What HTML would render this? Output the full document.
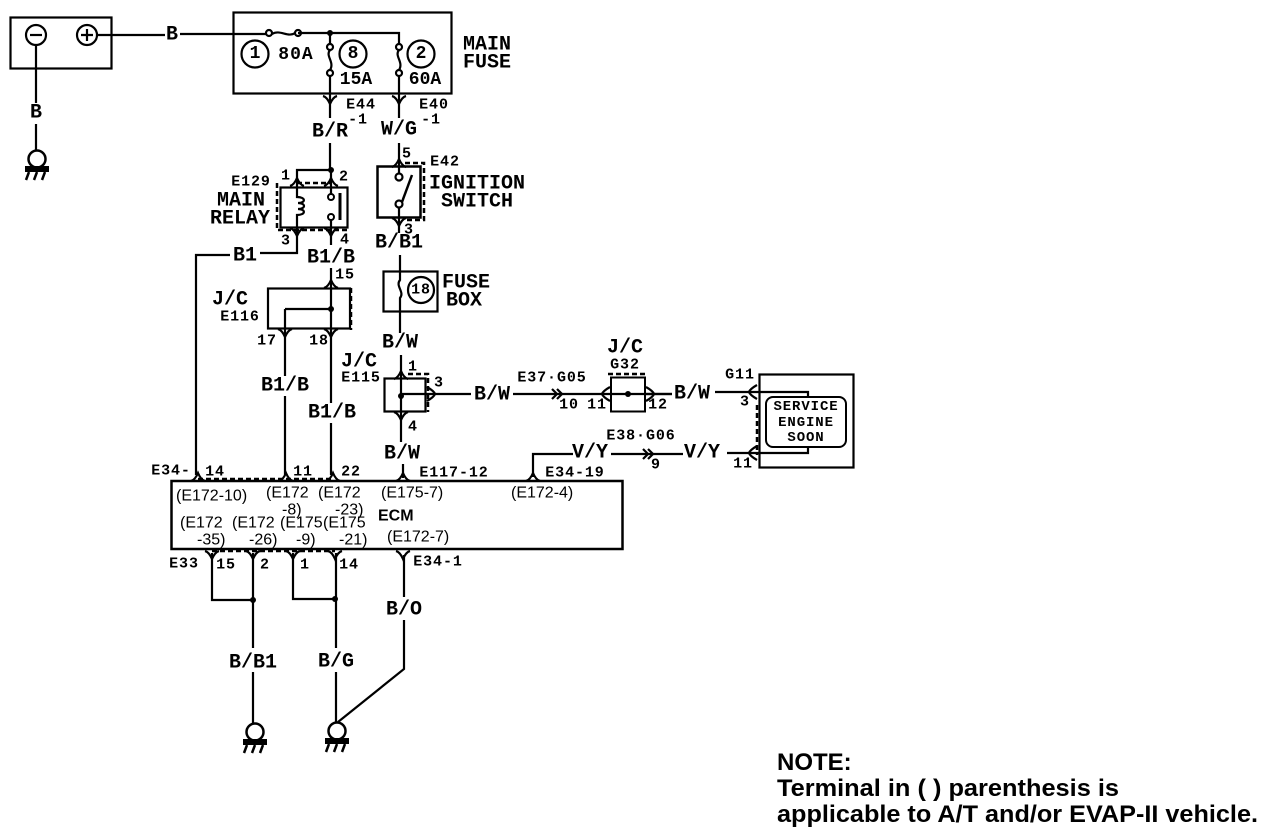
<!DOCTYPE html>
<html><head><meta charset="utf-8"><style>
html,body{margin:0;padding:0;background:#fff}
svg{display:block}
.w{fill:none;stroke:#000;stroke-width:2.2}
.d{fill:none;stroke:#000;stroke-width:2.5;stroke-dasharray:5 3}
text{fill:#000;font-family:"Liberation Mono",monospace;dominant-baseline:central}
.l{font-size:20px;font-weight:bold;text-anchor:middle}
.s{font-size:15px;font-weight:bold;text-anchor:middle;letter-spacing:.9px}
.p{font-family:"Liberation Sans",sans-serif;font-size:16px;text-anchor:start}
.n{font-family:"Liberation Sans",sans-serif;font-size:24px;font-weight:bold;dominant-baseline:auto}
</style></head><body>
<svg width="1280" height="836" viewBox="0 0 1280 836" xmlns="http://www.w3.org/2000/svg">
<defs>
<path id="u" class="w" d="M-7 4Q-3 3 0 -4Q3 3 7 4"/>
<path id="dn" class="w" d="M-7 -4Q-3 -3 0 4Q3 -3 7 -4"/>
<path id="r" class="w" d="M-4 -7Q3 -3 4 0Q3 3 -4 7"/>
<path id="lf" class="w" d="M4 -7Q-3 -3 -4 0Q-3 3 4 7"/>
<g id="gnd"><circle cx="0" cy="0" r="8.5" fill="#fff" stroke="#000" stroke-width="2.5"/><rect x="-12" y="7" width="24" height="6" fill="#000"/><path d="M-8 13L-11 21M0 13L-3 21M8 13L5 21" fill="none" stroke="#000" stroke-width="2.5"/></g>
<path id="chev" class="w" d="M0 -5L5 0L0 5M5 -5L10 0L5 5"/>
</defs>

<!-- battery -->
<rect x="10.5" y="17.5" width="101" height="51" class="w"/>
<circle cx="36" cy="35" r="10" class="w"/><path class="w" d="M30 35H42"/>
<circle cx="87" cy="35" r="10" class="w"/><path class="w" d="M81 35H93M87 29V41"/>
<path class="w" d="M97 35H165M180 34H266"/>
<text class="l" x="172" y="35">B</text>
<path class="w" d="M36 45V103M36 124V151"/>
<text class="l" x="36" y="113">B</text>
<use href="#gnd" x="37" y="159"/>

<!-- main fuse -->
<rect x="233.5" y="12.5" width="218" height="81" class="w"/>
<path class="w" d="M272 34C280 29 288 38 295 33M298 33H399V44"/>
<circle cx="269" cy="33" r="3" class="w"/><circle cx="298" cy="33" r="3" class="w"/>
<circle cx="330" cy="33" r="3" fill="#000"/>
<path class="w" d="M330 33V44M330 50C325 56 335 62 330 70M330 76V118"/>
<circle cx="330" cy="47" r="3" class="w"/><circle cx="330" cy="73" r="3" class="w"/>
<path class="w" d="M399 50C394 56 404 62 399 70M399 76V118"/>
<circle cx="399" cy="47" r="3" class="w"/><circle cx="399" cy="73" r="3" class="w"/>
<circle cx="255" cy="54" r="13.5" class="w"/><text class="l" x="255" y="54" style="font-size:18px">1</text>
<circle cx="353" cy="54" r="13.5" class="w"/><text class="l" x="353" y="54" style="font-size:18px">8</text>
<circle cx="421" cy="54" r="13.5" class="w"/><text class="l" x="421" y="54" style="font-size:18px">2</text>
<text class="l" x="296" y="55" style="font-size:18px;letter-spacing:1px">80A</text>
<text class="l" x="356" y="80" style="font-size:18px">15A</text>
<text class="l" x="425" y="80" style="font-size:18px">60A</text>
<text class="l" x="487" y="45">MAIN</text>
<text class="l" x="487" y="63">FUSE</text>
<use href="#dn" x="330" y="100"/><use href="#dn" x="399" y="100"/>
<text class="s" x="361" y="105">E44</text><text class="s" x="358" y="120">-1</text>
<text class="s" x="434" y="105">E40</text><text class="s" x="431" y="120">-1</text>
<text class="l" x="330" y="132">B/R</text>
<text class="l" x="399" y="130">W/G</text>

<!-- main relay -->
<path class="w" d="M330 143V170H297V187M331 170V194M331 220V245"/>
<circle cx="331" cy="170" r="3" fill="#000"/>
<rect x="280.5" y="187.5" width="67" height="40" class="w"/>
<path class="d" d="M297 183H331M277 183V230H348"/>
<use href="#u" x="297" y="182"/><use href="#u" x="331" y="182"/>
<use href="#dn" x="297" y="232"/><use href="#dn" x="331" y="232"/>
<path class="w" d="M297 187V197C306 197 306 203 298 203C306 203 306 209 298 209C306 209 306 215 297 215V253H260"/>
<circle cx="331" cy="197" r="3" fill="#fff" stroke="#000" stroke-width="2"/>
<circle cx="331" cy="217" r="3" fill="#fff" stroke="#000" stroke-width="2"/>
<path d="M340 193V220" fill="none" stroke="#000" stroke-width="3"/>
<text class="s" x="286" y="176">1</text><text class="s" x="344" y="177">2</text>
<text class="s" x="251" y="182">E129</text>
<text class="l" x="241" y="201">MAIN</text><text class="l" x="240" y="219">RELAY</text>
<text class="s" x="286" y="241">3</text><text class="s" x="345" y="240">4</text>
<text class="l" x="245" y="256">B1</text>
<path class="w" d="M230 255H196V475"/>
<text class="l" x="331" y="258">B1/B</text>

<!-- J/C E116 -->
<path class="w" d="M331 268V475M285 309H331M285 309V475"/>
<rect x="268" y="288.5" width="82" height="40" class="w"/>
<path class="d" d="M351 288V330"/>
<circle cx="331" cy="309" r="3" fill="#000"/>
<use href="#u" x="331" y="284"/>
<use href="#dn" x="285" y="333"/><use href="#dn" x="331" y="333"/>
<text class="s" x="345" y="275">15</text>
<text class="l" x="230" y="300">J/C</text><text class="s" x="240" y="317">E116</text>
<text class="s" x="267" y="341">17</text><text class="s" x="319" y="341">18</text>
<rect x="262" y="376" width="46" height="20" fill="#fff"/><text class="l" x="285" y="386">B1/B</text>
<rect x="308" y="403" width="48" height="20" fill="#fff"/><text class="l" x="332" y="413">B1/B</text>

<!-- ignition -->
<path class="w" d="M399 143V173M399 208V233"/>
<rect x="377.5" y="166.5" width="43" height="51" fill="none" stroke="#000" stroke-width="2.5"/>
<path class="d" d="M405 163H424V220H405"/>
<use href="#u" x="399" y="163"/><use href="#dn" x="399" y="222"/>
<circle cx="399" cy="177" r="3.5" class="w"/><circle cx="399" cy="204" r="3.5" class="w"/>
<path d="M402 202L412 175" fill="none" stroke="#000" stroke-width="2.5"/>
<text class="s" x="407" y="154">5</text><text class="s" x="445" y="162">E42</text>
<text class="l" x="477" y="184">IGNITION</text><text class="l" x="477" y="202">SWITCH</text>
<text class="s" x="409" y="230">3</text>
<text class="l" x="399" y="243">B/B1</text>

<!-- fuse box -->
<path class="w" d="M400 255V280C395 286 405 292 400 298V333"/>
<rect x="383.5" y="271.5" width="54" height="40" class="w"/>
<circle cx="421" cy="290" r="13" class="w"/><text class="s" x="421" y="290">18</text>
<text class="l" x="466" y="283">FUSE</text><text class="l" x="464" y="301">BOX</text>
<text class="l" x="400" y="343">B/W</text>

<!-- J/C E115 -->
<path class="w" d="M401 355V442M401 394H471"/>
<rect x="384.5" y="378.5" width="41" height="33" class="w"/>
<path class="d" d="M408 374H428V412"/>
<circle cx="401" cy="396" r="3" fill="#000"/>
<use href="#u" x="401" y="375"/><use href="#dn" x="401" y="416"/><use href="#r" x="431" y="394"/>
<text class="s" x="413" y="367">1</text><text class="s" x="439" y="383">3</text><text class="s" x="413" y="427">4</text>
<text class="l" x="359" y="362">J/C</text><text class="s" x="361" y="378">E115</text>
<text class="l" x="402" y="454">B/W</text>
<path class="w" d="M403 464V478"/>
<use href="#u" x="403" y="477"/>

<!-- B/W run -->
<text class="l" x="492" y="395">B/W</text>
<path class="w" d="M513 394H672"/>
<use href="#chev" x="552" y="394"/>
<text class="s" x="552" y="378">E37·G05</text>
<text class="s" x="569" y="405">10</text><text class="s" x="597" y="405">11</text>
<rect x="611" y="377.5" width="34" height="34" fill="#fff" stroke="#000" stroke-width="2"/>
<path class="w" d="M611 394H672"/>
<path class="d" d="M608 374H648"/>
<circle cx="628" cy="394" r="3" fill="#000"/>
<use href="#lf" x="606" y="394"/><use href="#r" x="650" y="394"/>
<text class="l" x="625" y="348">J/C</text><text class="s" x="625" y="365">G32</text>
<text class="s" x="658" y="405">12</text>
<text class="l" x="692" y="394">B/W</text>
<path class="w" d="M715 392H808V397"/>

<!-- service engine -->
<rect x="759.5" y="374.5" width="94" height="93" class="w"/>
<rect x="766" y="397" width="80" height="50" rx="7" fill="#fff" stroke="#000" stroke-width="2"/>
<text class="s" x="806" y="407" style="font-size:14px">SERVICE</text>
<text class="s" x="806" y="423" style="font-size:14px">ENGINE</text>
<text class="s" x="806" y="438" style="font-size:14px">SOON</text>
<path class="d" d="M757 405V455"/>
<use href="#lf" x="753" y="392"/><use href="#lf" x="753" y="453"/>
<text class="s" x="740" y="375">G11</text><text class="s" x="745" y="402">3</text><text class="s" x="743" y="464">11</text>

<!-- V/Y run -->
<path class="w" d="M533 477V454H573M611 454H683M727 453H808V447"/>
<text class="l" x="590" y="453">V/Y</text>
<use href="#chev" x="643" y="454"/>
<text class="s" x="641" y="436">E38·G06</text>
<text class="s" x="656" y="465">9</text>
<text class="l" x="702" y="453">V/Y</text>
<use href="#u" x="533" y="477"/>
<text class="s" x="575" y="473">E34-19</text>

<!-- ECM -->
<rect x="171.5" y="481" width="451" height="68" fill="#fff" stroke="#000" stroke-width="2.5"/>
<path class="d" d="M198 479H333"/>
<path class="d" d="M212 551H335"/>
<use href="#u" x="198" y="477"/><use href="#u" x="286" y="477"/><use href="#u" x="333" y="477"/>
<text class="s" x="171" y="471">E34-</text><text class="s" x="215" y="472">14</text>
<text class="s" x="303" y="472">11</text><text class="s" x="351" y="472">22</text>
<text class="s" x="454" y="473">E117-12</text>
<text class="p" x="176" y="496">(E172-10)</text>
<text class="p" x="266" y="493">(E172</text><text class="p" x="282" y="510">-8)</text>
<text class="p" x="318" y="493">(E172</text><text class="p" x="335" y="510">-23)</text>
<text class="p" x="381" y="493">(E175-7)</text>
<text class="p" x="511" y="493">(E172-4)</text>
<text x="378" y="516" style="font-family:'Liberation Sans',sans-serif;font-size:16px;font-weight:bold">ECM</text>
<text class="p" x="180" y="523">(E172</text><text class="p" x="197" y="540">-35)</text>
<text class="p" x="232" y="523">(E172</text><text class="p" x="249" y="540">-26)</text>
<text class="p" x="280" y="523">(E175</text><text class="p" x="296" y="540">-9)</text>
<text class="p" x="323" y="523">(E175</text><text class="p" x="339" y="540">-21)</text>
<text class="p" x="387" y="537">(E172-7)</text>

<!-- below ECM -->
<use href="#dn" x="212" y="555"/><use href="#dn" x="253" y="555"/><use href="#dn" x="293" y="555"/><use href="#dn" x="335" y="555"/><use href="#dn" x="403" y="555"/>
<text class="s" x="184" y="564">E33</text><text class="s" x="226" y="565">15</text><text class="s" x="265" y="565">2</text><text class="s" x="305" y="565">1</text><text class="s" x="349" y="565">14</text><text class="s" x="438" y="562">E34-1</text>
<path class="w" d="M212 553V600H253M253 553V648M253 672V725"/>
<path class="w" d="M293 553V599H335M336 553V648M336 672V724"/>
<circle cx="253" cy="600" r="3" fill="#000"/><circle cx="335" cy="599" r="3" fill="#000"/>
<path class="w" d="M404 555V597M404 620V669L338 722"/>
<text class="l" x="404" y="610">B/O</text>
<text class="l" x="253" y="663">B/B1</text>
<text class="l" x="336" y="662">B/G</text>
<use href="#gnd" x="255" y="732"/><use href="#gnd" x="337" y="731"/>

<!-- note -->
<text class="n" x="777" y="770">NOTE:</text>
<text class="n" x="777" y="796" textLength="342" lengthAdjust="spacingAndGlyphs">Terminal in (  ) parenthesis is</text>
<text class="n" x="777" y="822" textLength="481" lengthAdjust="spacingAndGlyphs">applicable to A/T and/or EVAP-II vehicle.</text>
</svg>
</body></html>
